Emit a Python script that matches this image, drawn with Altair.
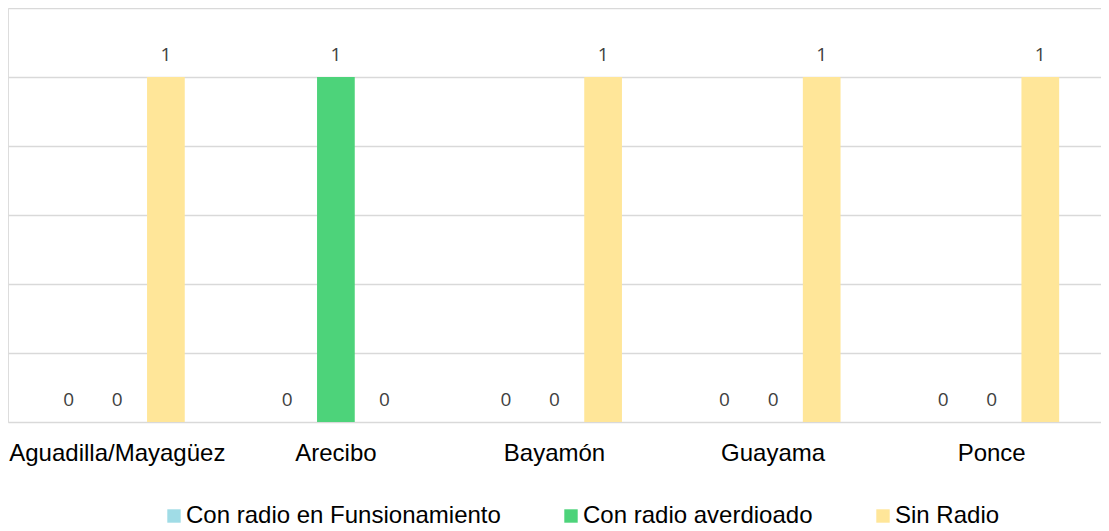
import altair as alt
import pandas as pd

regions = ["Aguadilla/Mayagüez", "Arecibo", "Bayamón", "Guayama", "Ponce"]
series = ["Con radio en Funsionamiento", "Con radio averdioado", "Sin Radio"]
colors = ["#a0dce6", "#4dd37a", "#ffe699"]
con_funcionamiento = [0, 0, 0, 0, 0]
con_averiado = [0, 1, 0, 0, 0]
sin_radio = [1, 0, 1, 1, 1]

rows = []
for s, vals in zip(series, [con_funcionamiento, con_averiado, sin_radio]):
    for r, v in zip(regions, vals):
        rows.append({"region": r, "serie": s, "valor": v})
df = pd.DataFrame(rows)

x = alt.X("region:N", sort=regions, title=None,
          scale=alt.Scale(paddingInner=0.333, paddingOuter=0.1665),
          axis=alt.Axis(labelAngle=0, ticks=False, domain=False,
                        labelFont="Liberation Sans", labelFontSize=24,
                        labelColor="#000000", labelPadding=19, labelLimit=400))
xo = alt.XOffset("serie:N", sort=series,
                 scale=alt.Scale(paddingInner=0.224, paddingOuter=0.112))
y = alt.Y("valor:Q", title=None,
          scale=alt.Scale(domain=[0, 1.2], nice=False),
          axis=alt.Axis(values=[0, 0.2, 0.4, 0.6, 0.8, 1.0, 1.2], labels=False,
                        ticks=False, domain=False, grid=True,
                        gridColor="#d9d9d9", gridWidth=1.5))

base = alt.Chart(df)
bars = base.mark_bar().encode(
    x=x, xOffset=xo, y=y,
    color=alt.Color("serie:N", sort=series,
                    scale=alt.Scale(domain=series, range=colors),
                    legend=alt.Legend(title=None, orient="none", direction="horizontal",
                                      legendX=154, legendY=496,
                                      symbolType="square", symbolSize=180,
                                      symbolStrokeWidth=0, labelFont="Liberation Sans",
                                      labelFontSize=24, labelColor="#000000",
                                      columnPadding=58, labelOffset=0,
                                      labelLimit=500)),
)
labels = base.mark_text(font="Open Sans", fontSize=19, color="#404040",
                        baseline="middle", dy=-22).encode(
    x=x, xOffset=xo, y=y, text=alt.Text("valor:Q", format="d"))

chart = alt.layer(bars, labels).properties(width=1093, height=414).configure_view(
    strokeWidth=0).configure(padding=0)
chart.save("out.html", embed_options={"renderer": "svg", "actions": False})
